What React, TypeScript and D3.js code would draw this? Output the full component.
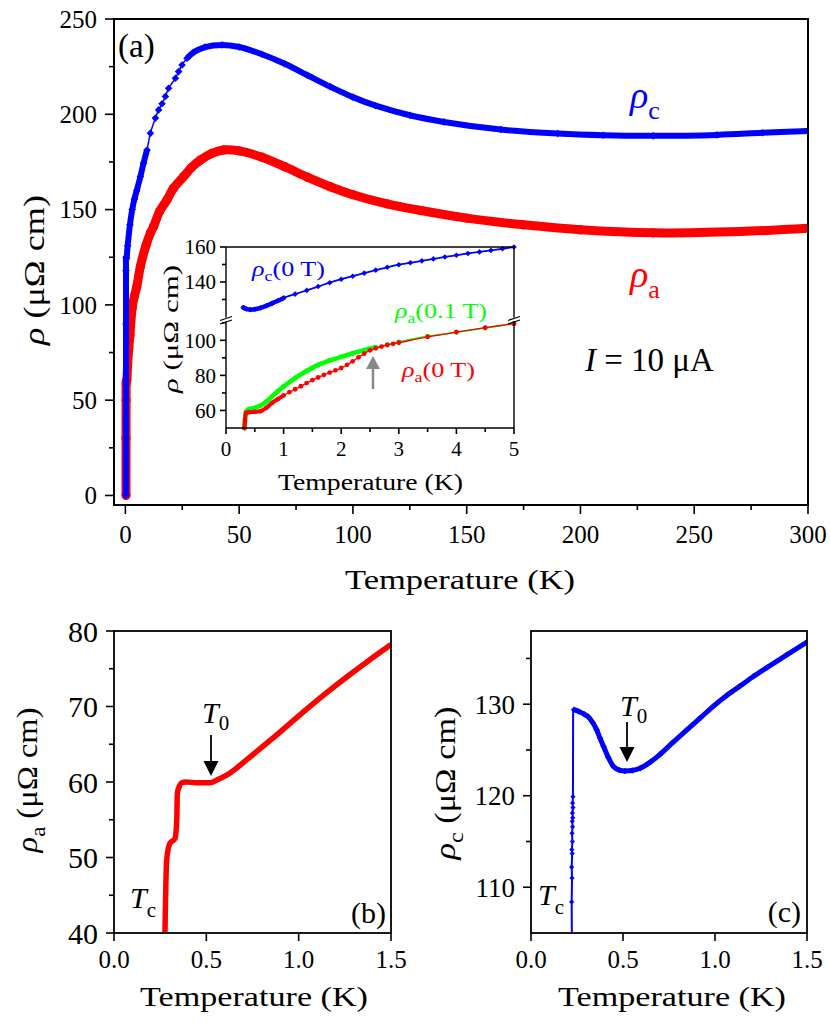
import React from 'react';
import * as d3 from 'd3';

const FONT = '"Liberation Serif", "Times New Roman", Times, serif';
const BLUE = '#0000ff';
const RED = '#ff0000';
const GREEN = '#00ff00';

// ---------- panel (a): main ----------
const mainXTicks = [0, 50, 100, 150, 200, 250, 300];
const mainXMinor = [25, 75, 125, 175, 225, 275];
const mainYTicks = [0, 50, 100, 150, 200, 250];
const mainYMinor = [25, 75, 125, 175, 225];

const rhoCMainT = [0.25, 0.26, 0.27, 0.28, 0.3, 0.45, 1, 2, 3, 4, 5, 6.6, 8, 9.5, 11, 13.2, 14.6, 16.1, 17.6, 19, 22, 23.4, 24.9, 27.1, 30, 35, 42.5, 50, 60, 70, 80, 90, 100, 110, 125, 140, 165, 190, 210, 232, 260, 280, 300];
const rhoCMainV = [0, 40, 90, 118, 125, 124.2, 131, 142, 150, 155.6, 160, 167.3, 174.4, 181.3, 190.1, 198, 202.3, 205.5, 209.3, 213.7, 218.9, 222.4, 225.9, 229.4, 232.5, 235.3, 236.4, 235.3, 231.5, 226.5, 220.5, 214.5, 209, 204.5, 199.5, 196, 192, 189.9, 189, 188.7, 189.2, 190.3, 191.3];

const rhoAMainT = [0.27, 0.28, 0.3, 0.34, 0.4, 0.6, 1, 1.5, 2, 3, 4, 5, 6.6, 9, 11, 12.4, 15, 18.3, 21, 25.6, 29, 33, 38, 43.2, 50, 60, 70, 80, 90, 100, 115, 130, 150, 175, 200, 232, 270, 300];
const rhoAMainV = [0, 30, 50, 58.5, 60, 60.5, 69, 77.5, 84, 98.5, 104.7, 109.5, 120.2, 131, 137.7, 141.1, 149, 155.1, 161, 167.3, 172, 176, 179.5, 181.3, 180.8, 177.5, 172.5, 167, 162, 157.8, 153, 149.5, 145.5, 142, 139.4, 137.8, 138.5, 140.2];

// ---------- inset ----------
const insetXTicks = [0, 1, 2, 3, 4, 5];
const insetXMinor = [0.5, 1.5, 2.5, 3.5, 4.5];
const insetLowTicks = [60, 80, 100];
const insetLowMinor = [70, 90, 110];
const insetHighTicks = [140, 160];
const insetHighMinor = [130, 150];

const insCT = [0.3, 0.35, 0.42, 0.5, 0.6, 0.7, 0.8, 0.9, 1.0, 1.2, 1.4, 1.6, 1.8, 2.0, 2.2, 2.4, 2.6, 2.8, 3.0, 3.2, 3.4, 3.6, 3.8, 4.0, 4.2, 4.4, 4.6, 4.8, 5.0];
const insCV = [125.4, 124.6, 124.2, 124.4, 125.2, 126.4, 127.8, 129.3, 130.9, 133.1, 135.2, 137.4, 139.6, 141.6, 143.3, 145.1, 146.8, 148.4, 149.9, 151, 152.1, 153.2, 154.3, 155.3, 156.3, 157.2, 158.1, 159, 160];

const insGT = [0.32, 0.33, 0.35, 0.4, 0.5, 0.6, 0.7, 0.8, 0.9, 1.0, 1.2, 1.4, 1.6, 1.8, 2.0, 2.2, 2.4, 2.6, 2.8, 3.0, 3.5, 4.0, 4.5, 5.0];
const insGV = [50, 55, 59.5, 60.8, 61.5, 62.8, 65, 68, 71, 73.7, 78.5, 82.5, 86, 88.5, 90.6, 92.6, 94.4, 96, 97.6, 99.1, 102.3, 104.6, 107, 109.5];

const insRT = [0.32, 0.33, 0.35, 0.4, 0.5, 0.6, 0.7, 0.8, 0.9, 1.0, 1.1, 1.2, 1.3, 1.4, 1.5, 1.6, 1.7, 1.8, 1.9, 2.0, 2.1, 2.2, 2.3, 2.4, 2.5, 2.6, 2.7, 2.8, 2.9, 3.0, 3.5, 4.0, 4.5, 5.0];
const insRV = [50, 54, 58.5, 59, 59.2, 59.6, 61.5, 64.3, 66.5, 68.6, 70.4, 72.1, 73.8, 75.6, 77.3, 78.8, 80.3, 81.6, 82.9, 84.2, 86, 88, 90.3, 92.4, 94.3, 95.4, 96.4, 97.3, 98, 98.6, 101.9, 104.7, 107.2, 109.5];

// ---------- panel (b) ----------
const lowXTicks = [0, 0.5, 1.0, 1.5];
const bYTicks = [40, 50, 60, 70, 80];
const bYMinor = [45, 55, 65, 75];
const bT = [0.276, 0.285, 0.303, 0.33, 0.34, 0.343, 0.355, 0.367, 0.39, 0.45, 0.52, 0.56, 0.61, 0.736, 0.85, 1.007, 1.13, 1.26, 1.38, 1.5];
const bV = [40, 49.6, 51.9, 52.5, 55, 58.5, 59.5, 59.9, 60, 59.9, 59.9, 60.3, 60.9, 63.3, 65.6, 68.9, 71.4, 73.9, 76.1, 78.2];

// ---------- panel (c) ----------
const cYTicks = [110, 120, 130];
const cYMinor = [115, 125, 135];
const cVertT = [0.222, 0.221, 0.223, 0.221, 0.224, 0.222, 0.225, 0.223, 0.226, 0.224, 0.227, 0.225, 0.228, 0.226, 0.228, 0.229];
const cVertV = [105, 108.4, 111, 112.2, 113.7, 114.1, 115, 115.9, 116.6, 117.2, 117.6, 118.1, 118.7, 119.2, 119.9, 129.4];
const cT = [0.234, 0.26, 0.29, 0.312, 0.335, 0.357, 0.375, 0.394, 0.42, 0.448, 0.48, 0.511, 0.55, 0.593, 0.65, 0.70, 0.77, 0.847, 0.92, 0.992, 1.06, 1.137, 1.21, 1.282, 1.39, 1.5];
const cV = [129.4, 129.2, 128.9, 128.6, 128, 127.2, 126.3, 125.4, 124.2, 123.2, 122.8, 122.7, 122.75, 123, 123.7, 124.5, 125.8, 127.2, 128.5, 129.8, 130.9, 132, 133.05, 134.0, 135.4, 136.8];

type Pt = [number, number];
const zip = (a: number[], b: number[]): Pt[] => a.map((t, i) => [t, b[i]]);
const diamond = (cx: number, cy: number, r: number) => `M${cx},${cy - r}L${cx + r},${cy}L${cx},${cy + r}L${cx - r},${cy}Z`;

function xAxis(sc: any, y0: number, major: number[], minor: number[], fmt: (v: number) => string, fs: number, base: number, mLen: number, nLen: number, key: string) {
  return (
    <g key={key}>
      {major.map(v => <line key={'M' + v} x1={sc(v)} x2={sc(v)} y1={y0} y2={y0 + mLen} stroke="#000" strokeWidth={1.6} />)}
      {minor.map(v => <line key={'m' + v} x1={sc(v)} x2={sc(v)} y1={y0} y2={y0 + nLen} stroke="#000" strokeWidth={1.6} />)}
      {major.map(v => <text key={'t' + v} x={sc(v)} y={base} fontSize={fs} textAnchor="middle">{fmt(v)}</text>)}
    </g>
  );
}

function yAxis(sc: any, x0: number, major: number[], minor: number[], fs: number, right: number, mLen: number, nLen: number, key: string) {
  return (
    <g key={key}>
      {major.map(v => <line key={'M' + v} x1={x0 - mLen} x2={x0} y1={sc(v)} y2={sc(v)} stroke="#000" strokeWidth={1.6} />)}
      {minor.map(v => <line key={'m' + v} x1={x0 - nLen} x2={x0} y1={sc(v)} y2={sc(v)} stroke="#000" strokeWidth={1.6} />)}
      {major.map(v => <text key={'t' + v} x={right} y={sc(v)} dy="0.35em" fontSize={fs} textAnchor="end">{String(v)}</text>)}
    </g>
  );
}

function RhoLabel({ x, y, fs, sub, rest, len }: { x: number; y: number; fs: number; sub?: string; rest: string; len: number }) {
  return (
    <text transform={`translate(${x},${y}) rotate(-90)`} fontSize={fs} textAnchor="middle" textLength={len} lengthAdjust="spacingAndGlyphs">
      <tspan fontStyle="italic">ρ</tspan>
      {sub ? <tspan fontSize={fs * 0.7} dy={fs * 0.25}>{sub}</tspan> : null}
      <tspan dy={sub ? -fs * 0.25 : 0}>{rest}</tspan>
    </text>
  );
}

export default function App() {
  const xA = d3.scaleLinear().domain([-5, 300]).range([114, 808]);
  const yA = d3.scaleLinear().domain([-5, 250]).range([505, 19]);
  const xI = d3.scaleLinear().domain([0, 5]).range([226, 514]);
  const yIL = d3.scaleLinear().domain([50, 111]).range([428, 321]);
  const yIH = d3.scaleLinear().domain([120, 160]).range([317, 247]);
  const xB = d3.scaleLinear().domain([0, 1.5]).range([114, 391]);
  const yB = d3.scaleLinear().domain([40, 80]).range([933, 631]);
  const xC = d3.scaleLinear().domain([0, 1.5]).range([531, 807]);
  const yC = d3.scaleLinear().domain([105, 138]).range([933, 631]);

  const cr = d3.curveCatmullRom.alpha(0.5);
  const mkLine = (xs: any, ys: any, def?: (d: Pt) => boolean) => {
    const l = d3.line<Pt>().x(d => xs(d[0])).y(d => ys(d[1])).curve(cr);
    if (def) l.defined(def);
    return l;
  };

  const cMain = zip(rhoCMainT, rhoCMainV);
  const aMain = zip(rhoAMainT, rhoAMainV);
  const insC = zip(insCT, insCV);
  const insG = zip(insGT, insGV);
  const insR = zip(insRT, insRV);
  const bData = zip(bT, bV);
  const cVert = zip(cVertT, cVertV);
  const cData = zip(cT, cV);

  const fmt1 = (v: number) => v.toFixed(1);
  const fmt0 = (v: number) => String(v);

  return (
    <svg width={830} height={1031} style={{ position: 'absolute', left: 0, top: 0, background: '#fff' }} fontFamily={FONT}>
      <rect x={0} y={0} width={830} height={1031} fill="#fff" />
      <defs>
        <clipPath id="clipA"><rect x={114} y={19} width={694} height={486} /></clipPath>
        <clipPath id="clipB"><rect x={114} y={631} width={277} height={302} /></clipPath>
        <clipPath id="clipC"><rect x={531} y={631} width={276} height={302} /></clipPath>
      </defs>

      {/* ================= panel (a) ================= */}
      <g clipPath="url(#clipA)">
        <path d={mkLine(xA, yA)(aMain) || ''} fill="none" stroke={RED} strokeWidth={9} strokeLinejoin="round" />
        {aMain.map((d, i) => <circle key={'ar' + i} cx={xA(d[0])} cy={yA(d[1])} r={4.6} fill={RED} />)}
        <path d={mkLine(xA, yA)(cMain) || ''} fill="none" stroke={BLUE} strokeWidth={1.5} />
        <path d={mkLine(xA, yA, d => d[0] < 9.6 || d[0] > 26)(cMain) || ''} fill="none" stroke={BLUE} strokeWidth={6} strokeLinejoin="round" />
        {cMain.map((d, i) => <path key={'ac' + i} d={diamond(xA(d[0]), yA(d[1]), 3.8)} fill={BLUE} />)}
      </g>
      <rect x={114} y={19} width={694} height={486} fill="none" stroke="#000" strokeWidth={2} />
      {xAxis(xA, 505, mainXTicks, mainXMinor, fmt0, 25, 543, 9, 5, 'axA')}
      {yAxis(yA, 114, mainYTicks, mainYMinor, 25, 97, 9, 5, 'ayA')}
      <text x={345} y={589} fontSize={27} textLength={230} lengthAdjust="spacingAndGlyphs">Temperature (K)</text>
      <RhoLabel x={44} y={270} fs={29} rest=" (μΩ cm)" len={150} />
      <text x={118} y={57} fontSize={33}>(a)</text>

      <text x={630} y={108} fill={BLUE}>
        <tspan fontSize={38} fontStyle="italic">ρ</tspan>
        <tspan fontSize={26} dy={11}>c</tspan>
      </text>
      <text x={630} y={287} fill={RED}>
        <tspan fontSize={38} fontStyle="italic">ρ</tspan>
        <tspan fontSize={26} dy={11}>a</tspan>
      </text>
      <text x={585} y={371} fontSize={33}>
        <tspan fontStyle="italic">I</tspan>
        <tspan> = 10 μA</tspan>
      </text>

      {/* ================= inset ================= */}
      <rect x={226} y={247} width={288} height={181} fill="#fff" />
      <g>
        <path d={mkLine(xI, yIH)(insC) || ''} fill="none" stroke={BLUE} strokeWidth={1.8} />
        <path d={mkLine(xI, yIH, d => d[0] <= 1.05)(insC) || ''} fill="none" stroke={BLUE} strokeWidth={4.5} strokeLinecap="round" />
        {insC.map((d, i) => <path key={'ic' + i} d={diamond(xI(d[0]), yIH(d[1]), 2.8)} fill={BLUE} />)}
        <path d={mkLine(xI, yIL)(insG) || ''} fill="none" stroke={GREEN} strokeWidth={1.5} />
        <path d={mkLine(xI, yIL, d => d[0] <= 2.65)(insG) || ''} fill="none" stroke={GREEN} strokeWidth={4.5} strokeLinecap="round" />
        {insG.map((d, i) => <circle key={'ig' + i} cx={xI(d[0])} cy={yIL(d[1])} r={2.4} fill={GREEN} />)}
        <path d={mkLine(xI, yIL)(insR) || ''} fill="none" stroke={RED} strokeWidth={1.3} />
        <path d={mkLine(xI, yIL, d => d[0] <= 1.0)(insR) || ''} fill="none" stroke={RED} strokeWidth={4} strokeLinecap="round" />
        {insR.map((d, i) => <circle key={'ir' + i} cx={xI(d[0])} cy={yIL(d[1])} r={2.4} fill={RED} />)}
      </g>
      <line x1={226} x2={514} y1={247} y2={247} stroke="#000" strokeWidth={1.4} />
      <line x1={226} x2={514} y1={428} y2={428} stroke="#000" strokeWidth={1.4} />
      <line x1={226} x2={226} y1={247} y2={317.5} stroke="#000" strokeWidth={1.4} />
      <line x1={226} x2={226} y1={321} y2={428} stroke="#000" strokeWidth={1.4} />
      <line x1={514} x2={514} y1={247} y2={317.5} stroke="#000" strokeWidth={1.4} />
      <line x1={514} x2={514} y1={321} y2={428} stroke="#000" strokeWidth={1.4} />
      {[226, 514].map(bx => (
        <g key={'brk' + bx}>
          <line x1={bx - 6} x2={bx + 6} y1={320.5} y2={316.5} stroke="#000" strokeWidth={1.3} />
          <line x1={bx - 6} x2={bx + 6} y1={324} y2={320} stroke="#000" strokeWidth={1.3} />
        </g>
      ))}
      {xAxis(xI, 428, insetXTicks, insetXMinor, fmt0, 21, 456, 6, 4, 'axI')}
      {yAxis(yIL, 226, insetLowTicks, insetLowMinor, 21, 216, 6, 4, 'ayIL')}
      {yAxis(yIH, 226, insetHighTicks, insetHighMinor, 21, 216, 6, 4, 'ayIH')}
      <text x={278} y={490} fontSize={23} textLength={185} lengthAdjust="spacingAndGlyphs">Temperature (K)</text>
      <RhoLabel x={178} y={329} fs={22} rest=" (μΩ cm)" len={128} />
      <line x1={373} x2={373} y1={389} y2={366} stroke="#888" strokeWidth={2.5} />
      <path d="M366,369 L380,369 L373,356 Z" fill="#888" />
      <text x={252} y={276} fontSize={22} fill={BLUE} textLength={73} lengthAdjust="spacingAndGlyphs">
        <tspan fontStyle="italic">ρ</tspan>
        <tspan fontSize={15} dy={5}>c</tspan>
        <tspan dy={-5}>(0 T)</tspan>
      </text>
      <text x={395} y={318} fontSize={22} fill={GREEN} textLength={92} lengthAdjust="spacingAndGlyphs">
        <tspan fontStyle="italic">ρ</tspan>
        <tspan fontSize={15} dy={5}>a</tspan>
        <tspan dy={-5}>(0.1 T)</tspan>
      </text>
      <text x={402} y={377} fontSize={22} fill={RED} textLength={73} lengthAdjust="spacingAndGlyphs">
        <tspan fontStyle="italic">ρ</tspan>
        <tspan fontSize={15} dy={5}>a</tspan>
        <tspan dy={-5}>(0 T)</tspan>
      </text>

      {/* ================= panel (b) ================= */}
      <g clipPath="url(#clipB)">
        <path d={d3.line<Pt>().x(d => xB(d[0])).y(d => yB(d[1])).curve(d3.curveMonotoneX)(bData) || ''} fill="none" stroke={RED} strokeWidth={5.5} strokeLinejoin="round" />
      </g>
      <rect x={114} y={631} width={277} height={302} fill="none" stroke="#000" strokeWidth={1.8} />
      {xAxis(xB, 933, lowXTicks, [], fmt1, 25, 968, 8, 5, 'axB')}
      {yAxis(yB, 114, bYTicks, bYMinor, 30, 98, 8, 5, 'ayB')}
      <text x={140} y={1006} fontSize={27} textLength={228} lengthAdjust="spacingAndGlyphs">Temperature (K)</text>
      <RhoLabel x={37} y={780} fs={30} sub="a" rest=" (μΩ cm)" len={145} />
      <text x={202} y={723} fontSize={30}>
        <tspan fontStyle="italic">T</tspan>
        <tspan fontSize={21} dy={7}>0</tspan>
      </text>
      <line x1={211} x2={211} y1={735} y2={763} stroke="#000" strokeWidth={1.8} />
      <path d="M203.5,761 L218.5,761 L211,776 Z" fill="#000" />
      <text x={130} y={908} fontSize={30}>
        <tspan fontStyle="italic">T</tspan>
        <tspan fontSize={21} dy={9}>c</tspan>
      </text>
      <text x={386} y={923} fontSize={30} textAnchor="end">(b)</text>

      {/* ================= panel (c) ================= */}
      <g clipPath="url(#clipC)">
        <path d={d3.line<Pt>().x(d => xC(d[0])).y(d => yC(d[1]))(cVert) || ''} fill="none" stroke={BLUE} strokeWidth={2} />
        <path d={d3.line<Pt>().x(d => xC(d[0])).y(d => yC(d[1]))([cVert[cVert.length - 1], cData[0]]) || ''} fill="none" stroke={BLUE} strokeWidth={3} />
        {cVert.slice(1, cVert.length - 1).map((d, i) => <path key={'cv' + i} d={diamond(xC(d[0]), yC(d[1]), 2.6)} fill={BLUE} />)}
        <path d={d3.line<Pt>().x(d => xC(d[0])).y(d => yC(d[1])).curve(d3.curveMonotoneX)(cData) || ''} fill="none" stroke={BLUE} strokeWidth={5} strokeLinejoin="round" />
        {cData.map((d, i) => <path key={'cd' + i} d={diamond(xC(d[0]), yC(d[1]), 3.2)} fill={BLUE} />)}
      </g>
      <rect x={531} y={631} width={276} height={302} fill="none" stroke="#000" strokeWidth={1.8} />
      {xAxis(xC, 933, lowXTicks, [], fmt1, 25, 968, 8, 5, 'axC')}
      {yAxis(yC, 531, cYTicks, cYMinor, 27, 515, 8, 5, 'ayC')}
      <text x={558} y={1006} fontSize={27} textLength={228} lengthAdjust="spacingAndGlyphs">Temperature (K)</text>
      <RhoLabel x={455} y={783} fs={30} sub="c" rest=" (μΩ cm)" len={153} />
      <text x={620} y={716} fontSize={30}>
        <tspan fontStyle="italic">T</tspan>
        <tspan fontSize={21} dy={7}>0</tspan>
      </text>
      <line x1={627} x2={627} y1={722} y2={749} stroke="#000" strokeWidth={1.8} />
      <path d="M619.5,747 L634.5,747 L627,762 Z" fill="#000" />
      <text x={538} y={905} fontSize={30}>
        <tspan fontStyle="italic">T</tspan>
        <tspan fontSize={21} dy={9}>c</tspan>
      </text>
      <text x={801} y={922} fontSize={30} textAnchor="end">(c)</text>
    </svg>
  );
}
